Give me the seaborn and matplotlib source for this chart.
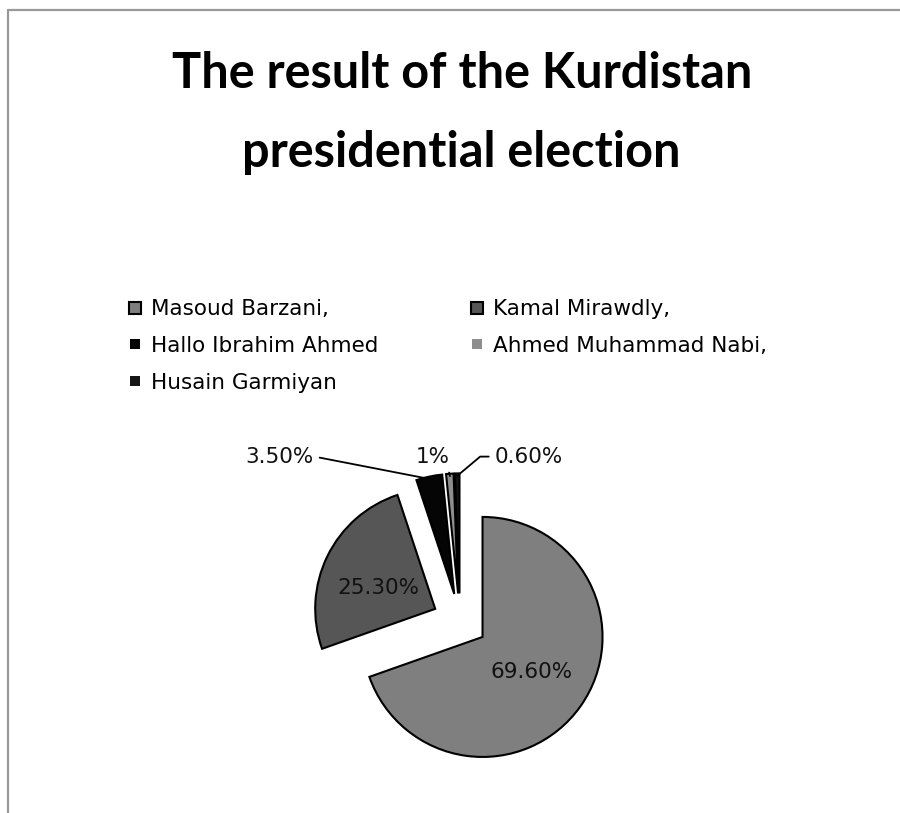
import numpy as np
import matplotlib
matplotlib.use("Agg")
from matplotlib import pyplot as plt
from matplotlib.lines import Line2D
import seaborn as sns

# election result (percent of votes)
candidates = ["Masoud Barzani,", "Kamal Mirawdly,", "Hallo Ibrahim Ahmed",
              "Ahmed Muhammad Nabi,", "Husain Garmiyan"]
shares = [69.6, 25.3, 3.5, 1.0, 0.6]
pct_labels = ["69.60%", "25.30%", "3.50%", "1%", "0.60%"]
colors = ["#7f7f7f", "#565656", "#050505", "#8e8e8e", "#151515"]

sns.set_theme(style="white")
plt.rcParams["font.family"] = ["DejaVu Sans"]
plt.rcParams["text.color"] = "black"

fig = plt.figure(figsize=(9, 8.13), dpi=100)
fig.patch.set_facecolor("white")

# chart area border (top + left only visible)
fig.add_artist(Line2D([8/900, 8/900], [0, 1 - 10/813], color="#999999", lw=1.6,
                      transform=fig.transFigure))
fig.add_artist(Line2D([8/900, 1], [1 - 10/813, 1 - 10/813], color="#999999", lw=1.6,
                      transform=fig.transFigure))

fig.suptitle("The result of the Kurdistan\npresidential election", x=0.513, y=0.937,
             va="top", fontsize=35, fontweight="bold", family=["Lato", "DejaVu Sans"],
             linespacing=1.9, color="black")

ax = fig.add_axes([280/900, 12/813, 360/900, 360/813])
wedges, _ = ax.pie(shares, colors=colors, startangle=90, counterclock=False,
                   explode=[0.23] * 5,
                   wedgeprops=dict(edgecolor="black", linewidth=1.5))
ax.set_xlim(-1.5, 1.5)
ax.set_ylim(-1.5, 1.5)
ax.set_aspect("equal")
ax.axis("off")

# labels inside the two big slices
for w, lab, d in zip(wedges[:2], pct_labels[:2], [0.5, 0.53]):
    mid = np.deg2rad((w.theta1 + w.theta2) / 2)
    cx, cy = w.center
    ax.text(cx + d * np.cos(mid), cy + d * np.sin(mid) - (0.06 if d > 0.5 else 0), lab,
            ha="center", va="center", fontsize=15.5, color="#111111")

# small slices get labels outside with leader lines
small_pos = [(-1.22, 1.37, "right", "angle,angleA=0,angleB=-11,rad=0", (1, 0.5)),
             (-0.23, 1.37, "center", "arc3", (0.95, 0)),
             (0.29, 1.37, "left", "angle,angleA=0,angleB=40,rad=0", (0, 0.5))]
for w, lab, (tx, ty, ha, cs, rp) in zip(wedges[2:], pct_labels[2:], small_pos):
    mid = np.deg2rad((w.theta1 + w.theta2) / 2)
    cx, cy = w.center
    px, py = cx + 0.98 * np.cos(mid), cy + 0.98 * np.sin(mid)
    ax.annotate(lab, xy=(px, py), xytext=(tx, ty), ha=ha, va="center",
                fontsize=15.5, color="#111111", annotation_clip=False,
                arrowprops=dict(arrowstyle="-", color="black", lw=1.3, relpos=rp,
                                connectionstyle=cs, shrinkA=2, shrinkB=0))

# legend, row-major order like the original
order = [0, 2, 4, 1, 3]
handles = []
for i in order:
    big = i < 2
    handles.append(Line2D([], [], linestyle="none", marker="s",
                          markersize=8.5 if big else 7,
                          markerfacecolor=colors[i],
                          markeredgecolor="black" if big else colors[i],
                          markeredgewidth=1.5 if big else 0,
                          label=candidates[i]))
fig.legend(handles=handles, loc="upper left", bbox_to_anchor=(0.142, 0.632),
           ncol=2, frameon=False, fontsize=15.5, handlelength=0.7,
           handletextpad=0.4, labelspacing=0.78, columnspacing=4.2,
           borderaxespad=0, borderpad=0)

fig.savefig("out.png", dpi=100, facecolor="white")
